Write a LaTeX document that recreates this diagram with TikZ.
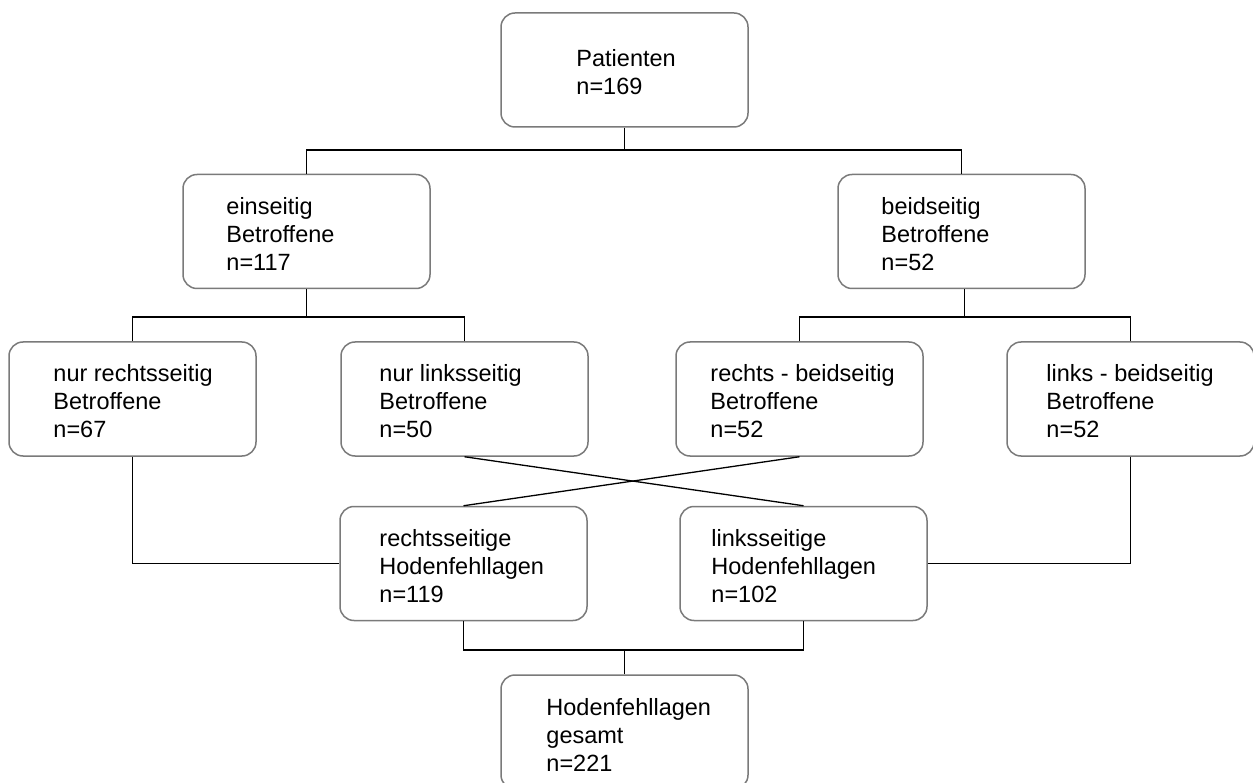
\documentclass[tikz,border=0pt]{standalone}
\usepackage{fontspec}
\setmainfont{Liberation Sans}
\begin{document}
\begin{tikzpicture}[x=1pt,y=-1pt,
  box/.style={draw=black!52, line width=1.5pt, rounded corners=14pt,
              minimum width=247pt, minimum height=114pt, inner sep=0pt, fill=white},
  txt/.style={anchor=west, inner sep=0pt, align=left, yshift=-2.5pt,
              font=\fontsize{23.5}{28}\selectfont},
  link/.style={draw=black, line width=1.3pt}]
\useasboundingbox (0,0) rectangle (1253,783);
\clip (0,0) rectangle (1253,783);

% bus levels of the tree
\coordinate (busA) at (0,150);
\coordinate (busB) at (0,317);
\coordinate (busD) at (0,650);

% boxes
\node[box] (pat) at (624.5,70)   {};
\node[box] (ein) at (306.5,231.5) {};
\node[box] (bei) at (961.5,231.5) {};
\node[box] (nr)  at (132.5,399)  {};
\node[box] (nl)  at (464.5,399)  {};
\node[box] (rb)  at (799.5,399)  {};
\node[box] (lb)  at (1130.5,399) {};
\node[box] (rh)  at (463.5,563.5) {};
\node[box] (lh)  at (803.5,563.5) {};
\node[box] (ges) at (624.5,732)  {};

% labels
\node[txt, xshift=76pt] (patT) at (pat.west) {Patienten\\n=169};
\node[txt, xshift=44pt] (einT) at (ein.west) {einseitig\\Betroffene\\n=117};
\node[txt, xshift=44pt] (beiT) at (bei.west) {beidseitig\\Betroffene\\n=52};
\node[txt, xshift=45pt] (nrT)  at (nr.west)  {nur rechtsseitig\\Betroffene\\n=67};
\node[txt, xshift=39pt] (nlT)  at (nl.west)  {nur linksseitig\\Betroffene\\n=50};
\node[txt, xshift=35pt] (rbT)  at (rb.west)  {rechts - beidseitig\\Betroffene\\n=52};
\node[txt, xshift=40pt] (lbT)  at (lb.west)  {links - beidseitig\\Betroffene\\n=52};
\node[txt, xshift=40pt] (rhT)  at (rh.west)  {rechtsseitige\\Hodenfehllagen\\n=119};
\node[txt, xshift=32pt] (lhT)  at (lh.west)  {linksseitige\\Hodenfehllagen\\n=102};
\node[txt, xshift=46pt] (gesT) at (ges.west) {Hodenfehllagen\\gesamt\\n=221};

% first split
\draw[link] (pat.south) -- (pat.south |- busA);
\draw[link] (ein.north) -- (ein.north |- busA) -| (bei.north);

% second split
\draw[link] (ein.south) -- (ein.south |- busB);
\draw[link] (nr.north) -- (nr.north |- busB) -| (nl.north);
\draw[link] ([xshift=3pt]bei.south) -- ([xshift=3pt]bei.south |- busB);
\draw[link] (rb.north) -- (rb.north |- busB) -| (lb.north);

% crossing links
\draw[link] (nl.south) -- (lh.north);
\draw[link] (rb.south) -- (rh.north);

% outer links
\draw[link] (nr.south) |- (rh.west);
\draw[link] (lb.south) |- (lh.east);

% merge into total
\draw[link] (rh.south) -- (rh.south |- busD) -| (lh.south);
\draw[link] (ges.north) -- (ges.north |- busD);
\end{tikzpicture}
\end{document}
